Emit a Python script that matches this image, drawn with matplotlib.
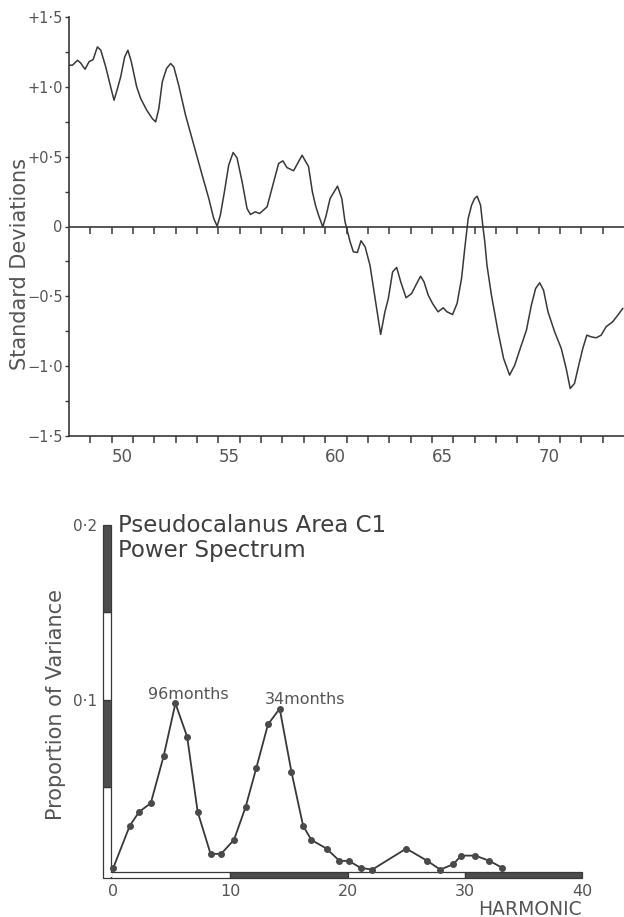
import numpy as np
import matplotlib.pyplot as plt
from matplotlib.patches import Rectangle

plt.rcParams['font.family'] = ['DejaVu Sans']

INK = '#383838'
TXT = '#555555'
DARK = '#4d4d4d'

# ---- top panel: standardised series
years = [1948.00, 1948.16, 1948.40, 1948.55, 1948.75, 1948.94, 1949.13, 1949.33,
         1949.49, 1949.72, 1949.95, 1950.11, 1950.27, 1950.42, 1950.61, 1950.76,
         1950.92, 1951.17, 1951.36, 1951.64, 1951.90, 1952.06, 1952.21, 1952.37,
         1952.57, 1952.76, 1952.91, 1953.14, 1953.46, 1953.85, 1954.24, 1954.55,
         1954.78, 1954.94, 1955.09, 1955.28, 1955.48, 1955.69, 1955.87, 1956.11,
         1956.34, 1956.50, 1956.73, 1956.93, 1957.28, 1957.59, 1957.82, 1958.02,
         1958.21, 1958.52, 1958.75, 1958.92, 1959.22, 1959.40, 1959.55, 1959.69,
         1959.89, 1960.05, 1960.23, 1960.58, 1960.78, 1960.93, 1961.01, 1961.17,
         1961.32, 1961.51, 1961.68, 1961.87, 1962.10, 1962.34, 1962.60, 1962.80,
         1962.96, 1963.16, 1963.35, 1963.54, 1963.79, 1964.05, 1964.29, 1964.47,
         1964.63, 1964.83, 1965.03, 1965.29, 1965.53, 1965.71, 1965.97, 1966.18,
         1966.39, 1966.54, 1966.70, 1966.86, 1967.00, 1967.12, 1967.28, 1967.40,
         1967.48, 1967.58, 1967.79, 1968.10, 1968.36, 1968.64, 1968.88, 1969.19,
         1969.43, 1969.66, 1969.86, 1970.05, 1970.23, 1970.44, 1970.75, 1971.06,
         1971.29, 1971.48, 1971.68, 1971.88, 1972.07, 1972.26, 1972.46, 1972.70,
         1972.93, 1973.16, 1973.47, 1973.71, 1973.94]
sd = [1.155, 1.155, 1.190, 1.170, 1.126, 1.180, 1.195, 1.286,
      1.262, 1.143, 1.000, 0.904, 0.988, 1.071, 1.215, 1.262,
      1.179, 1.000, 0.916, 0.833, 0.773, 0.749, 0.845, 1.036,
      1.131, 1.167, 1.143, 1.011, 0.797, 0.582, 0.367, 0.200,
      0.057, 0.002, 0.081, 0.248, 0.439, 0.530, 0.492, 0.320,
      0.129, 0.086, 0.105, 0.093, 0.141, 0.320, 0.451, 0.470,
      0.422, 0.399, 0.463, 0.510, 0.430, 0.250, 0.150, 0.081,
      -0.002, 0.081, 0.200, 0.289, 0.200, 0.034, -0.014, -0.110,
      -0.181, -0.186, -0.102, -0.145, -0.277, -0.515, -0.773, -0.611,
      -0.515, -0.325, -0.293, -0.396, -0.510, -0.480, -0.408, -0.356,
      -0.396, -0.492, -0.551, -0.611, -0.582, -0.611, -0.630, -0.551,
      -0.372, -0.157, 0.057, 0.153, 0.200, 0.217, 0.153, -0.014,
      -0.110, -0.277, -0.492, -0.754, -0.945, -1.064, -0.993, -0.850,
      -0.742, -0.563, -0.444, -0.403, -0.456, -0.611, -0.754, -0.873,
      -1.016, -1.160, -1.124, -0.993, -0.873, -0.778, -0.790, -0.797,
      -0.778, -0.718, -0.682, -0.635, -0.587]

year_ticks = list(range(1949, 1974))
year_label_pos = [1950.5, 1955.5, 1960.5, 1965.5, 1970.5]
year_labels = ['50', '55', '60', '65', '70']
sd_ticks = [1.5, 1.0, 0.5, 0.0, -0.5, -1.0, -1.5]
sd_labels = ['+1·5', '+1·0', '+0·5', '0', '−0·5', '−1·0', '−1·5']
sd_minor = [1.25, 0.75, 0.25, -0.25, -0.75, -1.25]

# ---- bottom panel: power spectrum
harmonic = [0, 1.4, 2.2, 3.2, 4.3, 5.3, 6.3, 7.2, 8.3, 9.2,
            10.3, 11.3, 12.2, 13.2, 14.2, 15.2, 16.2, 16.9, 18.2, 19.3,
            20.1, 21.1, 22.1, 25.0, 26.8, 27.9, 29.0, 29.7, 30.9, 32.1, 33.2]
prop_var = [0.004, 0.028, 0.036, 0.041, 0.068, 0.098, 0.079, 0.036, 0.012, 0.012,
            0.020, 0.039, 0.061, 0.086, 0.095, 0.059, 0.028, 0.020, 0.015, 0.008,
            0.008, 0.004, 0.003, 0.015, 0.008, 0.003, 0.006, 0.011, 0.011, 0.008, 0.004]
harm_ticks = [0, 10, 20, 30, 40]
harm_fill = ['white', DARK, 'white', DARK]
var_ticks = [0, 0.05, 0.1, 0.15, 0.2]
var_fill = ['white', DARK, 'white', DARK]
var_labels = {0.1: '0·1', 0.2: '0·2'}
peaks = [(5.3, 0.098, '96months', 2.95, 0.1003), (14.2, 0.095, '34months', 12.9, 0.0975)]

W, H = 624, 917
fig = plt.figure(figsize=(W / 100, H / 100), dpi=100)

# ================= top panel
ax = fig.add_axes((69 / W, 1 - 436 / H, 555 / W, 419 / H))
ax.plot(years, sd, color=INK, lw=1.1)
ax.set_xlim(1948, 1974)
ax.set_ylim(-1.5, 1.5)
ax.axhline(0, color=INK, lw=1.2)
ax.plot(year_ticks, np.zeros(len(year_ticks)), ls='none', marker=3,
        ms=5, mew=1.1, color=INK)
for s in ['top', 'right']:
    ax.spines[s].set_visible(False)
for s in ['left', 'bottom']:
    ax.spines[s].set_color(INK)
    ax.spines[s].set_linewidth(1.2)

ax.set_xticks(year_ticks)
ax.set_xticklabels([])
ax.set_xticks(year_label_pos, minor=True)
ax.set_xticklabels(year_labels, minor=True)
ax.tick_params(axis='x', which='major', direction='out', length=5, width=1.1, color=INK)
ax.tick_params(axis='x', which='minor', length=0, pad=9, labelsize=12, labelcolor=TXT)

ax.set_yticks(sd_ticks)
ax.set_yticklabels(sd_labels)
ax.set_yticks(sd_minor, minor=True)
ax.tick_params(axis='y', which='both', direction='out', length=3, width=1.0, color=INK,
               pad=1.5, labelsize=10.5, labelcolor=TXT)

fig.text(20 / W, 1 - 264 / H, 'Standard Deviations', rotation=90, ha='center', va='center',
         fontsize=15, color=TXT)

# ================= bottom panel
bx = fig.add_axes((103 / W, 1 - 878 / H, 479 / W, 353 / H))
bx.set_xlim(-0.88, 40)
bx.set_ylim(-0.0018, 0.2)
for s in bx.spines.values():
    s.set_visible(False)

xb0, xb1 = -0.88, -0.2
yb0, yb1 = -0.0018, 0.0017
# vertical striped bar
for i, c in enumerate(var_fill):
    lo = var_ticks[i] if i > 0 else yb0
    bx.add_patch(Rectangle((xb0, lo), xb1 - xb0, var_ticks[i + 1] - lo, facecolor=c,
                           edgecolor=INK, lw=0.9, clip_on=False, zorder=2))
# horizontal striped bar
for i, c in enumerate(harm_fill):
    lo = harm_ticks[i] if i > 0 else xb1
    bx.add_patch(Rectangle((lo, yb0), harm_ticks[i + 1] - lo, yb1 - yb0, facecolor=c,
                           edgecolor=INK, lw=0.9, clip_on=False, zorder=2))
bx.add_patch(Rectangle((xb1 - 0.1, yb0 + 0.0006), 0.2, yb1 - yb0 - 0.0012,
                       facecolor='white', edgecolor='none', clip_on=False, zorder=3))

bx.plot(harmonic, prop_var, color=INK, lw=1.3, marker='o', ms=4.0,
        mfc='#4a4a4a', mec='#4a4a4a', zorder=4, clip_on=False)

for px, py, lab, tx, ty in peaks:
    bx.text(tx, ty, lab, fontsize=11.5, color=TXT, ha='left', va='baseline')

bx.set_xticks(harm_ticks)
bx.set_xticklabels([str(h) for h in harm_ticks])
bx.tick_params(axis='x', length=0, pad=4, labelsize=11.5, labelcolor=TXT)
bx.set_yticks(list(var_labels.keys()))
bx.set_yticklabels(list(var_labels.values()))
bx.tick_params(axis='y', length=0, pad=4.5, labelsize=11, labelcolor=TXT)

bx.annotate('HARMONIC', xy=(40, 0), xycoords=('data', 'axes fraction'),
            xytext=(0, -22.5), textcoords='offset points', ha='right', va='center',
            fontsize=13.5, color=TXT, annotation_clip=False)

fig.text(118 / W, 1 - 514 / H, 'Pseudocalanus Area C1\nPower Spectrum', ha='left', va='top',
         fontsize=16.5, color='#3f3f3f', linespacing=1.1)
fig.text(56 / W, 1 - 705 / H, 'Proportion of Variance', rotation=90, ha='center', va='center',
         fontsize=15, color=TXT)

fig.savefig('out.png', dpi=100)
